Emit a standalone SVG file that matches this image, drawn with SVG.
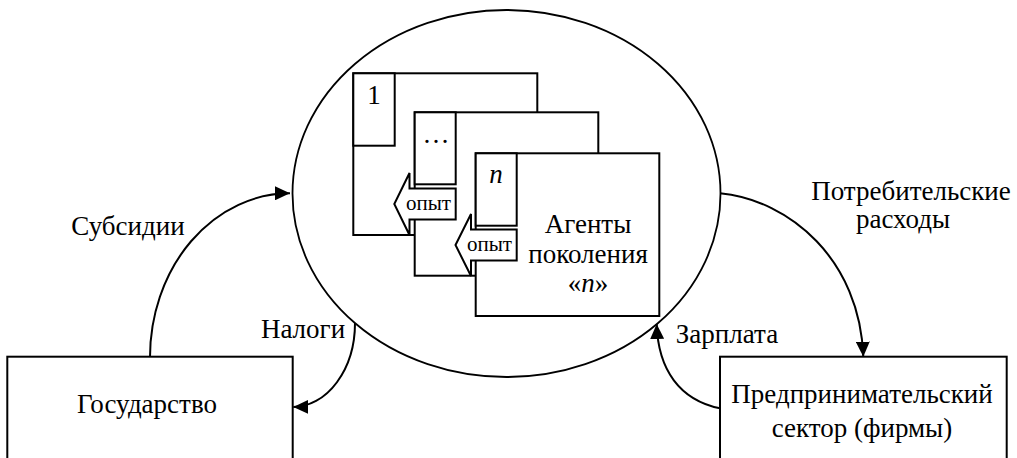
<svg xmlns="http://www.w3.org/2000/svg" width="1017" height="458" viewBox="0 0 1017 458">
<style>
.t{font-size:27px}
.s{font-size:21px}
.b{fill:#fff;stroke:#000;stroke-width:2}
.c{fill:none;stroke:#000;stroke-width:2}
</style>
<defs>
<marker id="ah" markerUnits="userSpaceOnUse" markerWidth="16" markerHeight="14" refX="15" refY="7" orient="auto">
<path d="M0,0 L15,7 L0,14 Z" fill="#000"/>
</marker>
</defs>
<rect width="1017" height="458" fill="#fff"/>
<g id="household">
<ellipse cx="506.5" cy="193.5" rx="214" ry="183.5" fill="#fff" stroke="#000" stroke-width="1.8"/>
<g id="gen1">
<rect class="b" x="353.3" y="73.3" width="184" height="161.7"/>
<rect class="b" x="353.3" y="73.3" width="41.4" height="72.4"/>
<text class="t" font-family="'Liberation Serif', serif" x="374" y="104" text-anchor="middle">1</text>
</g>
<g id="gen2">
<rect class="b" x="414.7" y="112.3" width="183.6" height="163.4"/>
<rect class="b" x="414.7" y="112.3" width="41" height="72"/>
<text class="t" font-family="'Liberation Serif', serif" x="436" y="143" text-anchor="middle">…</text>
</g>
<g id="exp1">
<path class="b" d="M455.7,188.5 L409.5,188.5 L409.5,173 L394.3,204 L409.5,235 L409.5,219.5 L455.7,219.5 Z"/>
<text class="s" font-family="'Liberation Serif', serif" x="428.5" y="210" text-anchor="middle">опыт</text>
</g>
<g id="gen3">
<rect class="b" x="475.7" y="153.3" width="183.6" height="162.7"/>
<rect class="b" x="475.7" y="153.3" width="41" height="72.4"/>
<text class="t" font-family="'Liberation Serif', serif" x="496" y="183" text-anchor="middle" font-style="italic">n</text>
<text class="t" font-family="'Liberation Serif', serif" x="588" y="233" text-anchor="middle">Агенты</text>
<text class="t" font-family="'Liberation Serif', serif" x="588" y="263" text-anchor="middle">поколения</text>
<text class="t" font-family="'Liberation Serif', serif" x="588" y="292" text-anchor="middle">«<tspan font-style="italic">n</tspan>»</text>
</g>
<g id="exp2">
<path class="b" d="M516.7,229.5 L471,229.5 L471,214 L455.5,245 L471,276 L471,260.5 L516.7,260.5 Z"/>
<text class="s" font-family="'Liberation Serif', serif" x="489.5" y="251" text-anchor="middle">опыт</text>
</g>
</g>
<g id="state">
<rect class="b" x="7.3" y="356.7" width="285.4" height="120"/>
<text class="t" font-family="'Liberation Serif', serif" x="147" y="413" text-anchor="middle">Государство</text>
</g>
<g id="firms">
<rect class="b" x="720" y="356.7" width="286.7" height="120"/>
<text class="t" font-family="'Liberation Serif', serif" x="862" y="403" text-anchor="middle">Предпринимательский</text>
<text class="t" font-family="'Liberation Serif', serif" x="862" y="437" text-anchor="middle">сектор (фирмы)</text>
</g>
<g id="connectors">
<path class="c" d="M150,357 A140,164 0 0 1 290,193.3" marker-end="url(#ah)"/>
<path class="c" d="M355,323 A62,84 0 0 1 293.3,407" marker-end="url(#ah)"/>
<path class="c" d="M720,193.3 C790,200 860,260 863.3,356.7" marker-end="url(#ah)"/>
<path class="c" d="M720,408.3 C680,400 658,370 656.7,324" marker-end="url(#ah)"/>
<text class="t" font-family="'Liberation Serif', serif" x="128" y="235" text-anchor="middle">Субсидии</text>
<text class="t" font-family="'Liberation Serif', serif" x="303" y="338" text-anchor="middle">Налоги</text>
<text class="t" font-family="'Liberation Serif', serif" x="911" y="200" text-anchor="middle">Потребительские</text>
<text class="t" font-family="'Liberation Serif', serif" x="903" y="228" text-anchor="middle">расходы</text>
<text class="t" font-family="'Liberation Serif', serif" x="727" y="343" text-anchor="middle">Зарплата</text>
</g>
</svg>
